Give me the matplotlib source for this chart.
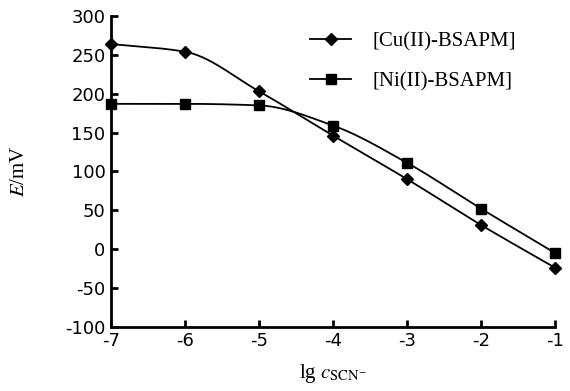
import matplotlib
matplotlib.use("Agg")
import matplotlib.pyplot as plt
import numpy as np

# values
lg_c = [-7, -6, -5, -4, -3, -2, -1]
E_cu = [264, 254, 203, 146, 90, 31, -24]
E_ni = [187, 187, 185, 159, 111, 52, -5]
labels = ["[Cu(II)-BSAPM]", "[Ni(II)-BSAPM]"]


def smooth(x, y, n=30):
    # monotone cubic (Fritsch-Carlson) curve through the points, no overshoot
    x = np.asarray(x, float)
    y = np.asarray(y, float)
    h = np.diff(x)
    d = np.diff(y) / h
    m = np.zeros_like(y)
    m[0], m[-1] = d[0], d[-1]
    for i in range(1, len(x) - 1):
        if d[i - 1] * d[i] > 0:
            w1 = 2 * h[i] + h[i - 1]
            w2 = h[i] + 2 * h[i - 1]
            m[i] = (w1 + w2) / (w1 / d[i - 1] + w2 / d[i])
    xs, ys = [], []
    t = np.linspace(0, 1, n)
    for i in range(len(x) - 1):
        h00 = 2 * t ** 3 - 3 * t ** 2 + 1
        h10 = t ** 3 - 2 * t ** 2 + t
        h01 = -2 * t ** 3 + 3 * t ** 2
        h11 = t ** 3 - t ** 2
        xs.extend(x[i] + t * h[i])
        ys.extend(h00 * y[i] + h10 * h[i] * m[i] + h01 * y[i + 1] + h11 * h[i] * m[i + 1])
    return xs, ys


plt.rcParams['mathtext.fontset'] = 'stix'
plt.rcParams['axes.unicode_minus'] = False
fig = plt.figure(figsize=(5.7, 3.91), dpi=100)
ax = fig.add_axes([0.195, 0.164, 0.779, 0.795])

for yv, mk, ms, lab in ((E_cu, 'D', 6, labels[0]), (E_ni, 's', 6.5, labels[1])):
    sx, sy = smooth(lg_c, yv)
    ax.plot(sx, sy, color='black', lw=1.3)
    ax.plot(lg_c, yv, linestyle='none', marker=mk, ms=ms, color='black', clip_on=False)
    ax.plot([], [], color='black', lw=1.3, marker=mk, ms=ms, label=lab)

ax.set_xlim(-7, -1)
ax.set_ylim(-100, 300)
ax.set_xticks(lg_c)
ax.set_yticks(range(-100, 301, 50))
for s in ('top', 'right'):
    ax.spines[s].set_visible(False)
for s in ('left', 'bottom'):
    ax.spines[s].set_linewidth(2)
ax.tick_params(direction='in', length=5, width=2, labelsize=13, pad=4)

ax.set_ylabel(r'$E$/mV', family='Liberation Serif', fontsize=15, labelpad=26)
ax.set_xlabel(r'lg $c_{\mathrm{SCN}^{-}}$', family='Liberation Serif', fontsize=15, labelpad=8)

leg = ax.legend(loc='upper left', bbox_to_anchor=(0.405, 1.01), frameon=False,
                prop={'family': 'Liberation Serif', 'size': 15},
                handlelength=2.0, labelspacing=1.0, handletextpad=1.0)

fig.savefig('out.png', dpi=100)
